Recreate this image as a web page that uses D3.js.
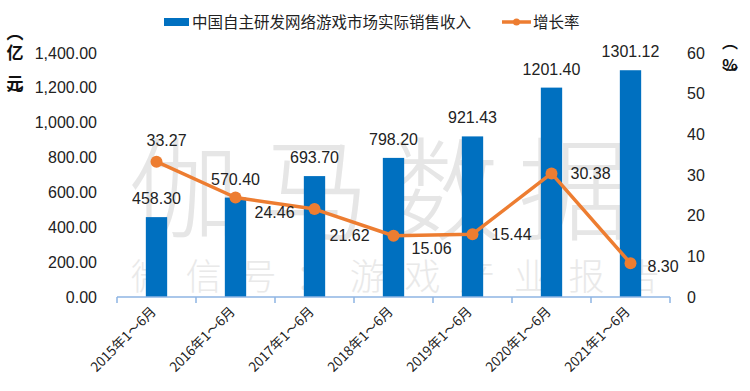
<!DOCTYPE html>
<html><head><meta charset="utf-8">
<script src="https://cdn.jsdelivr.net/npm/d3@7"></script>
<style>
html,body{margin:0;padding:0;background:#fff;}
svg{display:block;}
</style></head>
<body>
<svg id="chart" width="750" height="391"></svg>
<script>
const categories = ["2015年1～6月","2016年1～6月","2017年1～6月","2018年1～6月","2019年1～6月","2020年1～6月","2021年1～6月"];
const revenue = [458.30, 570.40, 693.70, 798.20, 921.43, 1201.40, 1301.12];
const growth = [33.27, 24.46, 21.62, 15.06, 15.44, 30.38, 8.30];
const leftTicks = [0, 200, 400, 600, 800, 1000, 1200, 1400];
const rightTicks = [0, 10, 20, 30, 40, 50, 60];
const seriesNames = ["中国自主研发网络游戏市场实际销售收入", "增长率"];

// label placement for growth labels (relative offsets)
const growthLabelDx = [-10, 19, 15, 18, 19, 19, 17];
const growthLabelDy = [-21, 15, 26, 12, 0, 0, 3];

const svg = d3.select("#chart");
const BLUE = "#0070c0", ORANGE = "#ed7d31", AXIS = "#8eb4e3", TXT = "#222";
const NUMF = "'Liberation Sans', Arial, sans-serif";
const CJKF = "'Noto Sans CJK SC', sans-serif";

const x = d3.scaleBand().domain(categories).range([117, 670]).padding(0);
const cx = c => x(c) + x.bandwidth() / 2;
const barW = x.bandwidth() * 0.27;
const yL = d3.scaleLinear().domain([0, 1400]).range([297, 53]);
const yR = d3.scaleLinear().domain([0, 60]).range([297, 53]);

// watermark
svg.append("text").attr("x", 128).attr("y", 232)
  .attr("font-family", CJKF).attr("font-size", 112).attr("font-weight", 300).attr("letter-spacing", 18)
  .attr("fill", "#e6e6e6").text("伽马数据");
svg.append("text").attr("x", 131).attr("y", 290)
  .attr("font-family", CJKF).attr("font-size", 36).attr("font-weight", 300).attr("letter-spacing", 18.7)
  .attr("fill", "#e9e9e9").text("微信号：游戏产业报告");

// bars
svg.append("g").selectAll("rect").data(revenue).join("rect")
  .attr("x", (d, i) => cx(categories[i]) - barW / 2)
  .attr("y", d => yL(d))
  .attr("width", barW)
  .attr("height", d => yL(0) - yL(d))
  .attr("fill", BLUE);

// bottom axis
const axisG = svg.append("g").attr("transform", `translate(0,${yL(0)})`)
  .call(d3.axisBottom(x).tickSize(0).tickFormat(""));
axisG.select(".domain").attr("stroke", AXIS).attr("stroke-width", 1.5).attr("d", `M${x.range()[0]},0H${x.range()[1]}`);
const bounds = categories.map(c => x(c)).concat([x.range()[1]]);
axisG.selectAll(".bt").data(bounds).join("line").attr("class", "bt")
  .attr("x1", d => d).attr("x2", d => d).attr("y1", 0).attr("y2", 6)
  .attr("stroke", AXIS).attr("stroke-width", 1.5);

// x labels
svg.append("g").selectAll("text").data(categories).join("text")
  .attr("transform", d => `translate(${cx(d) - 3},${yL(0) + 12}) rotate(-45)`)
  .attr("text-anchor", "end").attr("dy", "0.35em")
  .attr("font-family", CJKF).attr("font-size", 13.5).attr("fill", TXT)
  .text(d => d);

// left axis labels
const lAxis = svg.append("g").attr("transform", "translate(117,0)")
  .call(d3.axisLeft(yL).tickValues(leftTicks).tickSize(0).tickPadding(20).tickFormat(d3.format(",.2f")));
lAxis.select(".domain").remove();
lAxis.selectAll("text").attr("font-family", NUMF).attr("font-size", 16).attr("fill", TXT);

// right axis labels
const rAxis = svg.append("g").attr("transform", "translate(670,0)")
  .call(d3.axisRight(yR).tickValues(rightTicks).tickSize(0).tickPadding(17).tickFormat(d3.format("d")));
rAxis.select(".domain").remove();
rAxis.selectAll("text").attr("font-family", NUMF).attr("font-size", 16).attr("fill", TXT);

// axis titles (vertical)
const lt = [["︵", 39], ["亿", 59], ["元", 90], ["︶", 100]];
svg.append("g").selectAll("text").data(lt).join("text")
  .attr("x", 15).attr("y", d => d[1]).attr("text-anchor", "middle")
  .attr("font-family", CJKF).attr("font-size", 17).attr("font-weight", "bold").attr("fill", "#111")
  .text(d => d[0]);
const rt = [["︵", 48], ["%", 71], ["︶", 80]];
svg.append("g").selectAll("text").data(rt).join("text")
  .attr("x", 730).attr("y", d => d[1]).attr("text-anchor", "middle")
  .attr("font-family", CJKF).attr("font-size", 16).attr("font-weight", "bold").attr("fill", "#111")
  .text(d => d[0]);

// line
const line = d3.line().x((d, i) => cx(categories[i])).y(d => yR(d));
svg.append("path").datum(growth).attr("d", line)
  .attr("fill", "none").attr("stroke", ORANGE).attr("stroke-width", 3.5).attr("stroke-linejoin", "round");
svg.append("g").selectAll("circle").data(growth).join("circle")
  .attr("cx", (d, i) => cx(categories[i])).attr("cy", d => yR(d)).attr("r", 6)
  .attr("fill", ORANGE);

// bar labels
svg.append("g").selectAll("text").data(revenue).join("text")
  .attr("x", (d, i) => cx(categories[i])).attr("y", d => yL(d) - 13)
  .attr("text-anchor", "middle")
  .attr("font-family", NUMF).attr("font-size", 16).attr("fill", TXT)
  .text(d => d.toFixed(2));

// growth labels
svg.append("g").selectAll("text").data(growth).join("text")
  .attr("x", (d, i) => cx(categories[i]) + growthLabelDx[i])
  .attr("y", (d, i) => yR(d) + growthLabelDy[i]).attr("dy", "0.36em")
  .attr("font-family", NUMF).attr("font-size", 16).attr("fill", TXT)
  .text(d => d.toFixed(2));

// legend
const lg = svg.append("g");
lg.append("rect").attr("x", 164).attr("y", 18).attr("width", 25).attr("height", 8).attr("fill", BLUE);
lg.append("text").attr("x", 192).attr("y", 22).attr("dy", "0.36em")
  .attr("font-family", CJKF).attr("font-size", 15.5).attr("fill", TXT).text(seriesNames[0]);
lg.append("line").attr("x1", 502).attr("x2", 531).attr("y1", 22).attr("y2", 22)
  .attr("stroke", ORANGE).attr("stroke-width", 3.5);
lg.append("circle").attr("cx", 516.5).attr("cy", 22).attr("r", 3.5).attr("fill", ORANGE);
lg.append("text").attr("x", 533).attr("y", 22).attr("dy", "0.36em")
  .attr("font-family", CJKF).attr("font-size", 15.5).attr("fill", TXT).text(seriesNames[1]);
</script>
</body></html>
